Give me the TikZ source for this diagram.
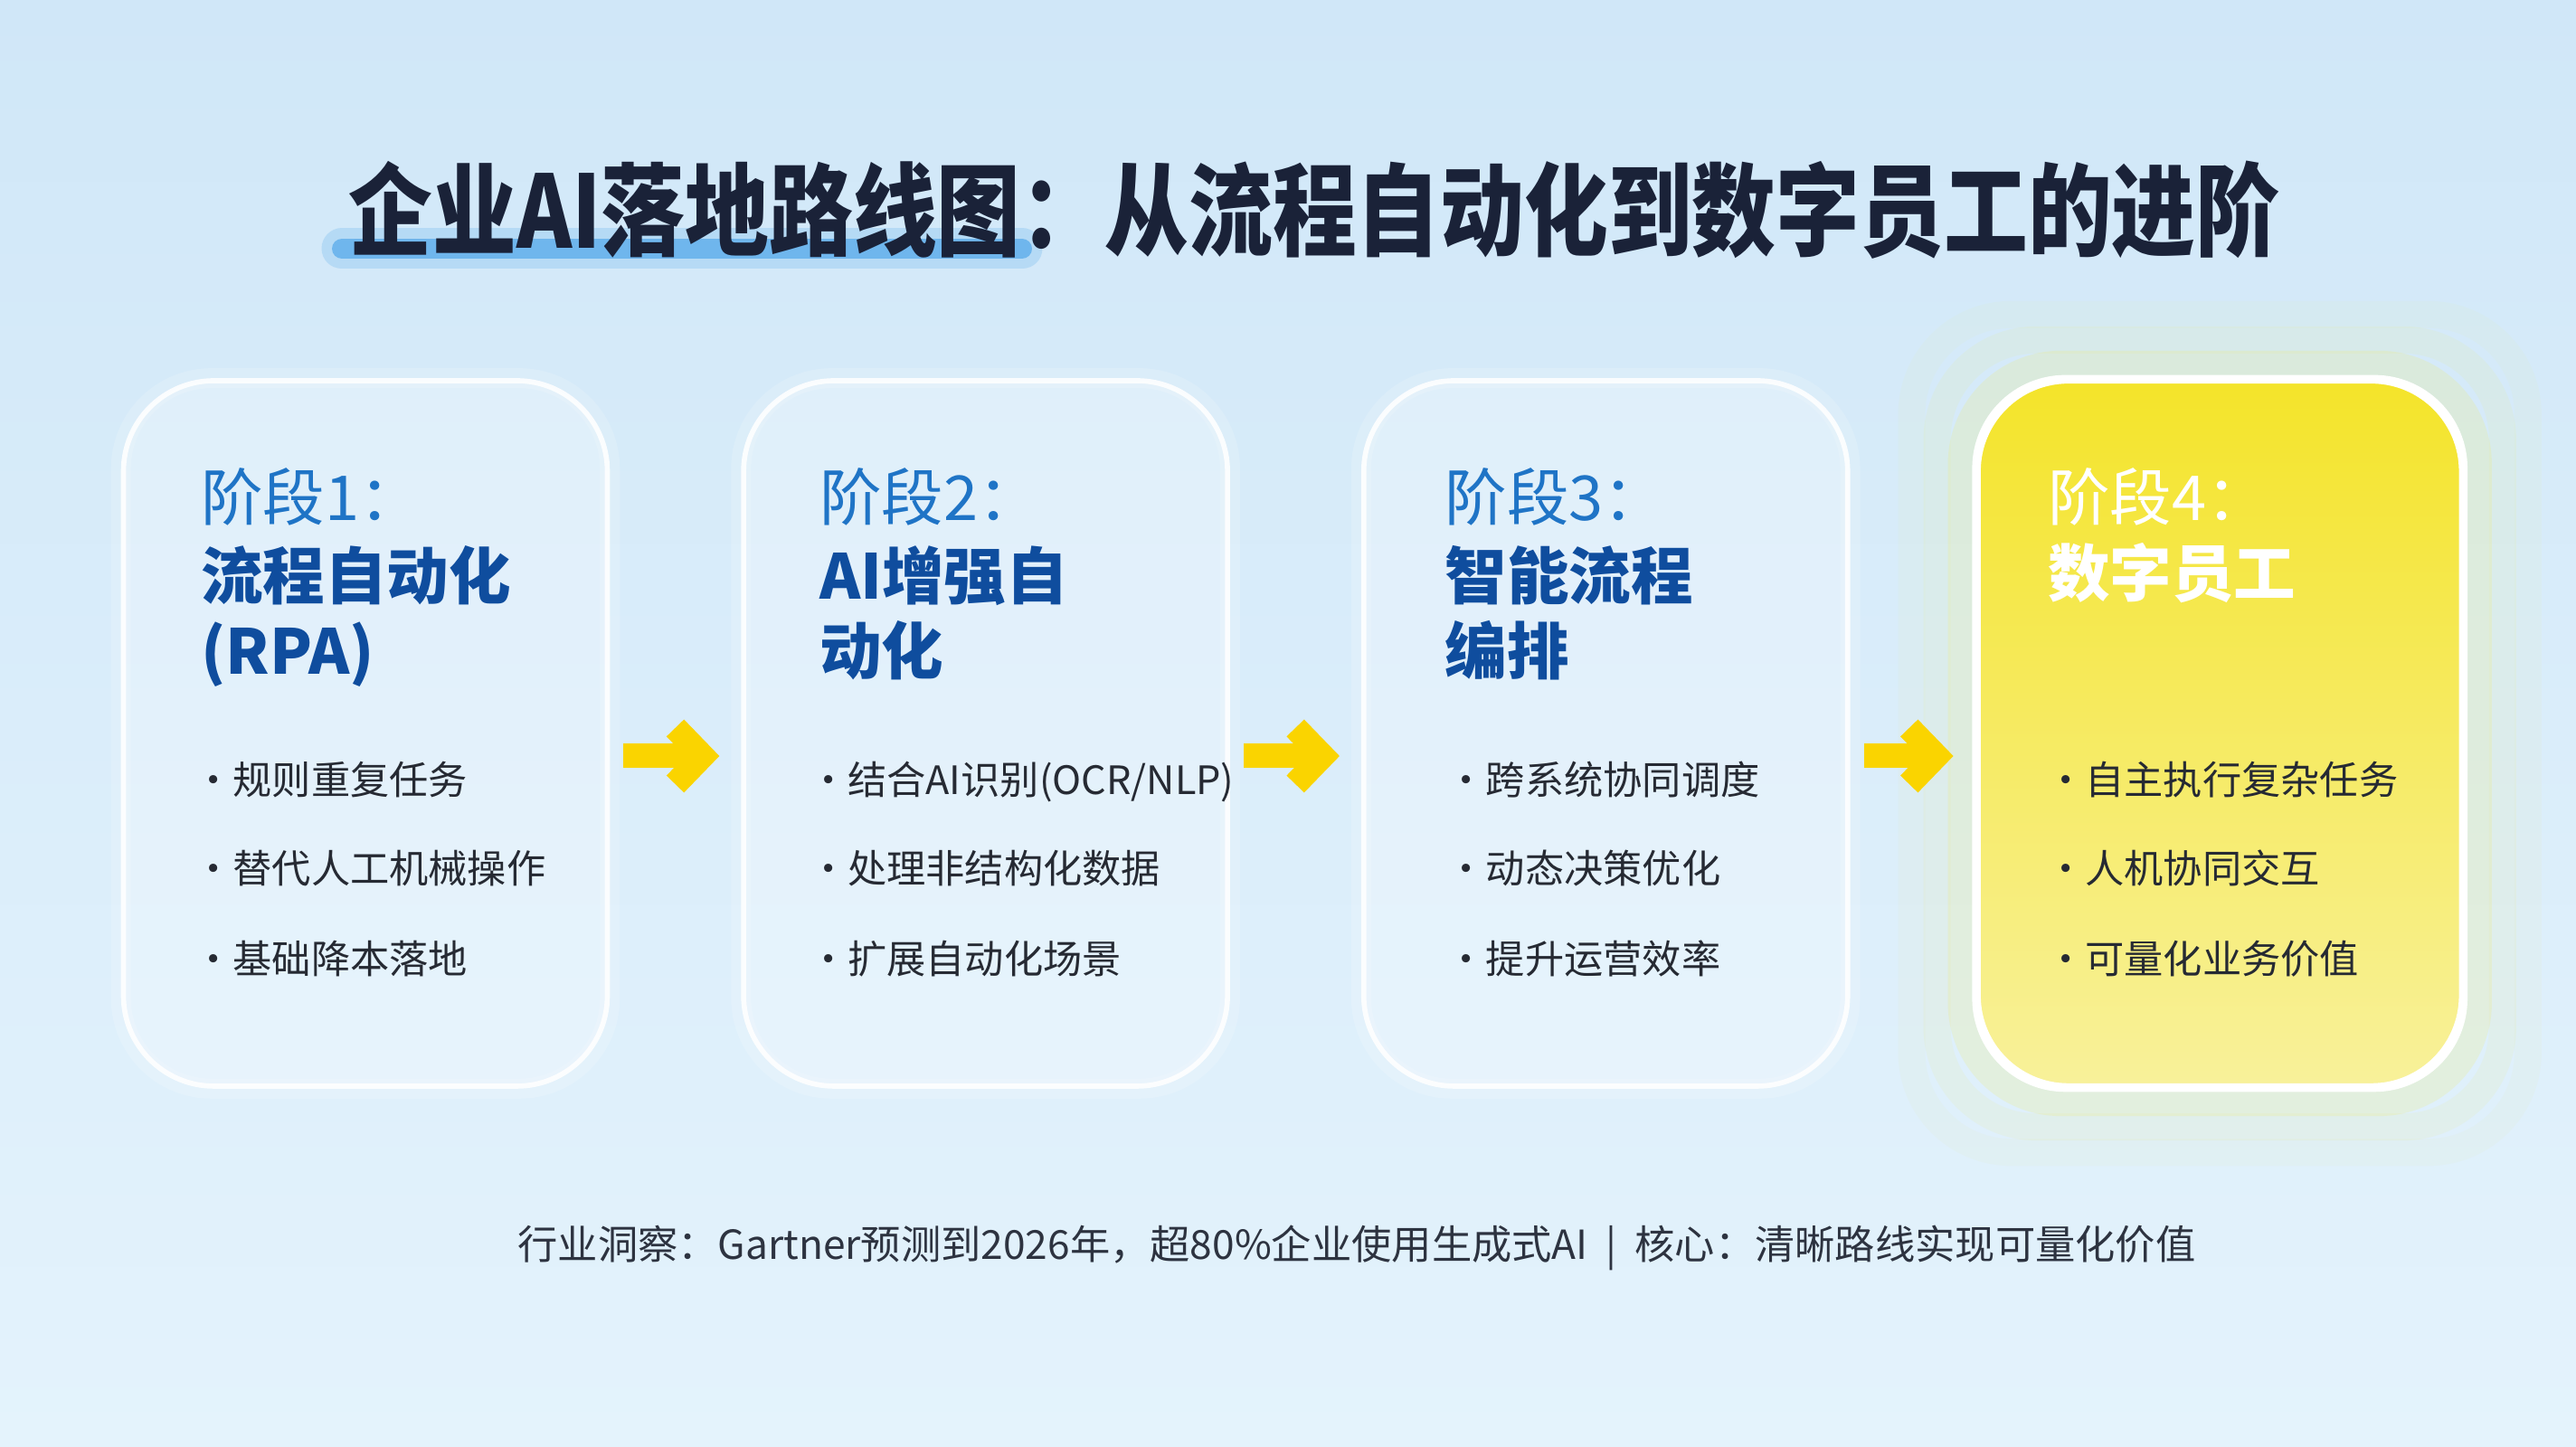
\documentclass[tikz,border=0pt]{standalone}
\usepackage{fontspec}
\setmainfont{Noto Sans CJK SC}
\usepackage{graphicx}
\usepackage{xcolor}
\usetikzlibrary{
	arrows.meta,
	positioning,
	calc
}
\definecolor{bgtop}{HTML}{D0E7F8}
\definecolor{bgbot}{HTML}{E4F3FC}
\definecolor{titleink}{HTML}{1A2238}
\definecolor{markblue}{HTML}{5EAEEB}
\definecolor{stageblue}{HTML}{1F74C6}
\definecolor{namedblue}{HTML}{0F4D9E}
\definecolor{bodyink}{HTML}{262A33}
\definecolor{footink}{HTML}{2D3340}
\definecolor{arrowyellow}{HTML}{FAD400}
\definecolor{cardtop}{HTML}{F4E42A}
\definecolor{cardmid}{HTML}{F6E926}
\definecolor{cardbot}{HTML}{F8F19A}
\definecolor{glowyellow}{HTML}{F2EC6A}

\begin{document}
\begin{tikzpicture}[
	card/.style={draw=white, draw opacity=0.9, line width=1.6pt,
		fill=white, fill opacity=0.26, text opacity=1,
		rounded corners=1cm, minimum width=5.35cm, minimum height=7.8cm},
	goldcard/.style={draw=white, line width=1.8pt, rounded corners=1cm,
		top color=cardtop, middle color=cardmid, bottom color=cardbot,
		minimum width=5.35cm, minimum height=7.8cm},
	halo/.style={draw=white, opacity=0.16, line width=0.22cm, rounded corners=1cm},
	yhalo/.style={draw=glowyellow, line width=0.3cm, rounded corners=1.1cm},
	stagehd/.style={anchor=west, inner sep=0pt, text=stageblue,
		font=\fontsize{19.5pt}{24pt}\selectfont, text height=0.88em, text depth=0.12em},
	stagename/.style={stagehd, text=namedblue, font=\fontsize{19.5pt}{24pt}\selectfont\bfseries},
	point/.style={anchor=west, inner sep=0pt, text=bodyink,
		font=\fontsize{12.3pt}{15pt}\selectfont, text height=0.88em, text depth=0.12em},
	flow/.style={draw=arrowyellow, line width=0.27cm,
		-{Straight Barb[sharp, length=0.3cm, width=0.62cm]},
		shorten <=0.15cm, shorten >=0.24cm}
	]
	
	% backdrop
	\useasboundingbox (0,0) rectangle (28.48,16);
	\fill[top color=bgtop, bottom color=bgbot] (0,0) rectangle (28.48,16);
	
	% title with blue marker under its first half
	\draw[markblue, opacity=0.25, line width=0.45cm, line cap=round] (3.78,13.25) -- (11.3,13.25);
	\draw[markblue, opacity=0.8, line width=0.22cm, line cap=round] (3.78,13.25) -- (11.3,13.25);
	\node[text=titleink, font=\fontsize{26.4pt}{31pt}\selectfont\bfseries] (title) at (14.53,13.68)
	{\scalebox{1}[1.2]{企业AI落地路线图：从流程自动化到数字员工的进阶}};
	
	% stage cards
	\node[card] (c1) at (4.04,7.89) {};
	\node[card, right=1.45cm of c1] (c2) {};
	\node[card, right=1.45cm of c2] (c3) {};
	\node[goldcard, right=1.38cm of c3] (c4) {};
	
	\draw[halo] (c1.north west) rectangle (c1.south east);
	\draw[halo] (c2.north west) rectangle (c2.south east);
	\draw[halo] (c3.north west) rectangle (c3.south east);
	\draw[yhalo, opacity=0.2] ($(c4.north west)+(-0.15,0.15)$) rectangle ($(c4.south east)+(0.15,-0.15)$);
	\draw[yhalo, opacity=0.1] ($(c4.north west)+(-0.42,0.42)$) rectangle ($(c4.south east)+(0.42,-0.42)$);
	\draw[yhalo, opacity=0.05] ($(c4.north west)+(-0.7,0.7)$) rectangle ($(c4.south east)+(0.7,-0.7)$);
	\draw[white, line width=1.8pt, rounded corners=1cm] (c4.north west) rectangle (c4.south east);
	
	% stage 1
	\node[stagehd] (h1) at ([xshift=0.88cm, yshift=-1.44cm]c1.north west) {阶段1：};
	\node[stagename] (n1a) at ([xshift=0.88cm, yshift=-2.31cm]c1.north west) {流程自动化};
	\node[stagename] (n1b) at ([xshift=0.88cm, yshift=-3.14cm]c1.north west) {(RPA)};
	\node[point] (p1a) at ([xshift=0.8cm, yshift=-4.47cm]c1.north west) {•规则重复任务};
	\node[point] (p1b) at ([xshift=0.8cm, yshift=-5.45cm]c1.north west) {•替代人工机械操作};
	\node[point] (p1c) at ([xshift=0.8cm, yshift=-6.45cm]c1.north west) {•基础降本落地};
	
	% stage 2
	\node[stagehd] (h2) at ([xshift=0.86cm, yshift=-1.44cm]c2.north west) {阶段2：};
	\node[stagename] (n2a) at ([xshift=0.86cm, yshift=-2.31cm]c2.north west) {AI增强自};
	\node[stagename] (n2b) at ([xshift=0.86cm, yshift=-3.14cm]c2.north west) {动化};
	\node[point] (p2a) at ([xshift=0.74cm, yshift=-4.47cm]c2.north west) {•结合AI识别(OCR/NLP)};
	\node[point] (p2b) at ([xshift=0.74cm, yshift=-5.45cm]c2.north west) {•处理非结构化数据};
	\node[point] (p2c) at ([xshift=0.74cm, yshift=-6.45cm]c2.north west) {•扩展自动化场景};
	
	% stage 3
	\node[stagehd] (h3) at ([xshift=0.92cm, yshift=-1.44cm]c3.north west) {阶段3：};
	\node[stagename] (n3a) at ([xshift=0.92cm, yshift=-2.31cm]c3.north west) {智能流程};
	\node[stagename] (n3b) at ([xshift=0.92cm, yshift=-3.14cm]c3.north west) {编排};
	\node[point] (p3a) at ([xshift=0.94cm, yshift=-4.47cm]c3.north west) {•跨系统协同调度};
	\node[point] (p3b) at ([xshift=0.94cm, yshift=-5.45cm]c3.north west) {•动态决策优化};
	\node[point] (p3c) at ([xshift=0.94cm, yshift=-6.45cm]c3.north west) {•提升运营效率};
	
	% stage 4
	\node[stagehd, text=white] (h4) at ([xshift=0.8cm, yshift=-1.44cm]c4.north west) {阶段4：};
	\node[stagename, text=white] (n4a) at ([xshift=0.8cm, yshift=-2.28cm]c4.north west) {数字员工};
	\node[point] (p4a) at ([xshift=0.78cm, yshift=-4.47cm]c4.north west) {•自主执行复杂任务};
	\node[point] (p4b) at ([xshift=0.78cm, yshift=-5.45cm]c4.north west) {•人机协同交互};
	\node[point] (p4c) at ([xshift=0.78cm, yshift=-6.45cm]c4.north west) {•可量化业务价值};
	
	% arrows between stages
	\draw[flow] ([yshift=-0.25cm]c1.east) -- ([yshift=-0.25cm]c2.west);
	\draw[flow] ([yshift=-0.25cm]c2.east) -- ([yshift=-0.25cm]c3.west);
	\draw[flow] ([yshift=-0.25cm]c3.east) -- ([yshift=-0.25cm]c4.west);
	
	% footnote
	\node[text=footink, font=\fontsize{12.6pt}{15pt}\selectfont] (note) at (15.0,2.2)
	{行业洞察：Gartner预测到2026年，超80\%企业使用生成式AI\hspace{0.45em}|\hspace{0.45em}核心：清晰路线实现可量化价值};
	
\end{tikzpicture}
\end{document}
